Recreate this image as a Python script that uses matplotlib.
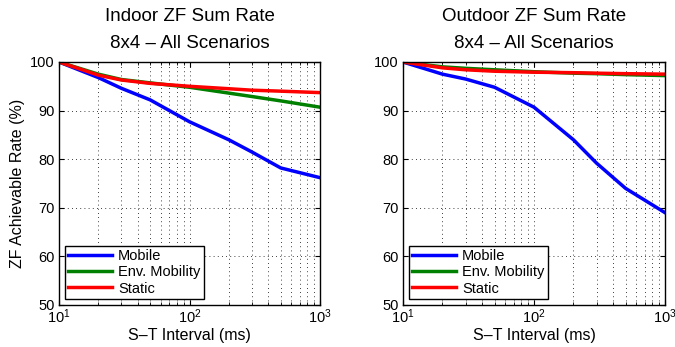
import matplotlib
matplotlib.use("Agg")
import matplotlib.pyplot as plt
from matplotlib.ticker import LogLocator, NullFormatter, MultipleLocator

plt.rcParams['font.family'] = ['Liberation Sans', 'DejaVu Sans']

intervals = [10, 20, 30, 50, 100, 200, 300, 500, 1000]

indoor_mobile = [100, 96.8, 94.6, 92.2, 87.7, 84.0, 81.5, 78.2, 76.2]
indoor_env = [100, 97.5, 96.4, 95.7, 94.8, 93.6, 92.9, 92.0, 90.7]
indoor_static = [100, 97.3, 96.3, 95.6, 95.0, 94.5, 94.2, 94.0, 93.7]

outdoor_mobile = [100, 97.5, 96.5, 94.8, 90.7, 84.0, 79.2, 74.0, 69.0]
outdoor_env = [100, 99.0, 98.7, 98.4, 98.0, 97.7, 97.6, 97.4, 97.2]
outdoor_static = [100, 98.8, 98.4, 98.1, 97.9, 97.8, 97.7, 97.6, 97.5]

titles = ["Indoor ZF Sum Rate\n8x4 \u2013 All Scenarios",
          "Outdoor ZF Sum Rate\n8x4 \u2013 All Scenarios"]
labels = ["Mobile", "Env. Mobility", "Static"]
colors = ["#0000ff", "#008000", "#ff0000"]

fig = plt.figure(figsize=(6.75, 3.47), dpi=100)
W, H = 675, 347
ax1 = fig.add_axes([59 / W, 1 - 305 / H, (320 - 59) / W, (305 - 62) / H])
ax2 = fig.add_axes([403 / W, 1 - 305 / H, (665 - 403) / W, (305 - 62) / H])

datasets = [(indoor_mobile, indoor_env, indoor_static),
            (outdoor_mobile, outdoor_env, outdoor_static)]

gridstyle = dict(ls=(0, (1, 4)), color='black', lw=0.6)

for ax, title, data in zip([ax1, ax2], titles, datasets):
    for series, lab, c in zip(data, labels, colors):
        ax.plot(intervals, series, color=c, lw=2.5, label=lab)
    ax.set_xscale('log')
    ax.set_xlim(10, 1000)
    ax.set_ylim(50, 100)
    ax.yaxis.set_major_locator(MultipleLocator(10))
    ax.xaxis.set_minor_locator(LogLocator(base=10, subs=range(2, 10)))
    ax.xaxis.set_minor_formatter(NullFormatter())
    ax.grid(True, which='major', **gridstyle)
    ax.grid(True, which='minor', axis='x', **gridstyle)
    ax.tick_params(direction='in', which='both', top=True, right=True, labelsize=10.5)
    ax.tick_params(axis='x', pad=2)
    ax.tick_params(axis='y', pad=3)
    for sp in ax.spines.values():
        sp.set_linewidth(1.0)
    ax.set_title(title, fontsize=13.5, linespacing=1.75, pad=10)
    ax.set_xlabel("S\u2013T Interval (ms)", fontsize=11.5, labelpad=1)
    leg = ax.legend(loc='lower left', fontsize=10.5, fancybox=False, edgecolor='black',
                    framealpha=1, borderaxespad=0.4, handlelength=3.0,
                    labelspacing=0.15, borderpad=0.25, handletextpad=0.4)
    leg.get_frame().set_linewidth(1.0)

ax1.set_ylabel("ZF Achievable Rate (%)", fontsize=11.5)

fig.savefig("out.png", dpi=100)
